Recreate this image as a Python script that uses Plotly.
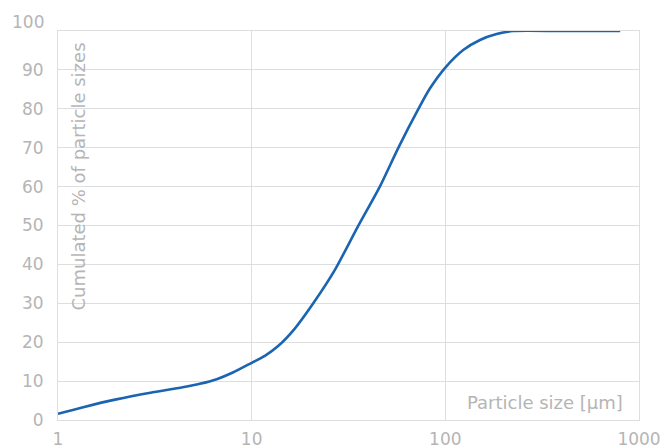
import plotly.graph_objects as go

# Data
particle_size = [1, 1.35, 2.0, 3.0, 4.4, 5.4, 6.6, 8.0, 10, 11.7, 13.7, 16.7, 20.8,
                 26.9, 35.5, 45.9, 57.1, 72.5, 83.2, 100, 123.7, 151, 184, 224, 400, 800]
cumulated_pct = [1.6, 3.3, 5.3, 7.0, 8.4, 9.3, 10.5, 12.2, 14.7, 16.5, 19.0, 23.5, 30.0,
                 38.6, 49.9, 60, 69.9, 79.9, 85.2, 90.6, 95.1, 97.7, 99.2, 100, 100, 100]

x_ticks = [1, 10, 100, 1000]
x_tick_labels = ["1", "10", "100", "1000"]
y_ticks = [0, 10, 20, 30, 40, 50, 60, 70, 80, 90]
y_tick_labels = ["0", "10", "20", "30", "40", "50", "60", "70", "80", "90"]
y_top_label = "100"

x_title = "Particle size [µm]"
y_title = "Cumulated % of particle sizes"

label_color = "#b5b5b5"
grid_color = "#dedede"
font_family = "DejaVu Sans, Liberation Sans, sans-serif"

fig = go.Figure()
fig.add_trace(go.Scatter(
    x=particle_size, y=cumulated_pct, mode="lines",
    line=dict(color="#1b64b2", width=2.6, shape="spline", smoothing=0.7),
    hoverinfo="skip", showlegend=False, cliponaxis=False,
))

fig.update_layout(
    width=664, height=448,
    margin=dict(l=58, r=25, t=31, b=28),
    paper_bgcolor="white", plot_bgcolor="white",
    font=dict(family=font_family, color=label_color, size=17),
    xaxis=dict(
        type="log", range=[0, 3], automargin=False,
        tickvals=x_ticks, ticktext=x_tick_labels,
        showgrid=True, gridcolor=grid_color, gridwidth=1,
        showline=True, linecolor=grid_color, linewidth=1, mirror=True,
        ticks="outside", ticklen=4, tickcolor="rgba(0,0,0,0)",
        tickfont=dict(size=17, color=label_color),
        zeroline=False,
    ),
    yaxis=dict(
        range=[0, 100], automargin=False,
        tickvals=y_ticks, ticktext=y_tick_labels,
        showgrid=True, gridcolor=grid_color, gridwidth=1,
        showline=True, linecolor=grid_color, linewidth=1, mirror=True,
        ticks="outside", ticklen=10, tickcolor="rgba(0,0,0,0)",
        tickfont=dict(size=17, color=label_color),
        zeroline=False,
    ),
    annotations=[
        dict(xref="paper", yref="y", x=0, y=100, text=y_top_label,
             showarrow=False, xanchor="right", yanchor="middle",
             xshift=-12, yshift=9,
             font=dict(size=17, color=label_color, family=font_family)),
        dict(xref="paper", yref="paper", x=1, y=0, text=x_title,
             showarrow=False, xanchor="right", yanchor="bottom",
             xshift=-14, yshift=5,
             font=dict(size=18, color=label_color, family=font_family)),
        dict(xref="paper", yref="paper", x=0, y=1, text=y_title,
             showarrow=False, xanchor="left", yanchor="top", textangle=-90,
             xshift=7, yshift=-10,
             font=dict(size=18, color=label_color, family=font_family)),
    ],
)

# remove the browser's default 8px body margin so the figure fills the window
fig.write_html("out.html", config={"displayModeBar": False},
               post_script="document.body.style.margin='0';")
